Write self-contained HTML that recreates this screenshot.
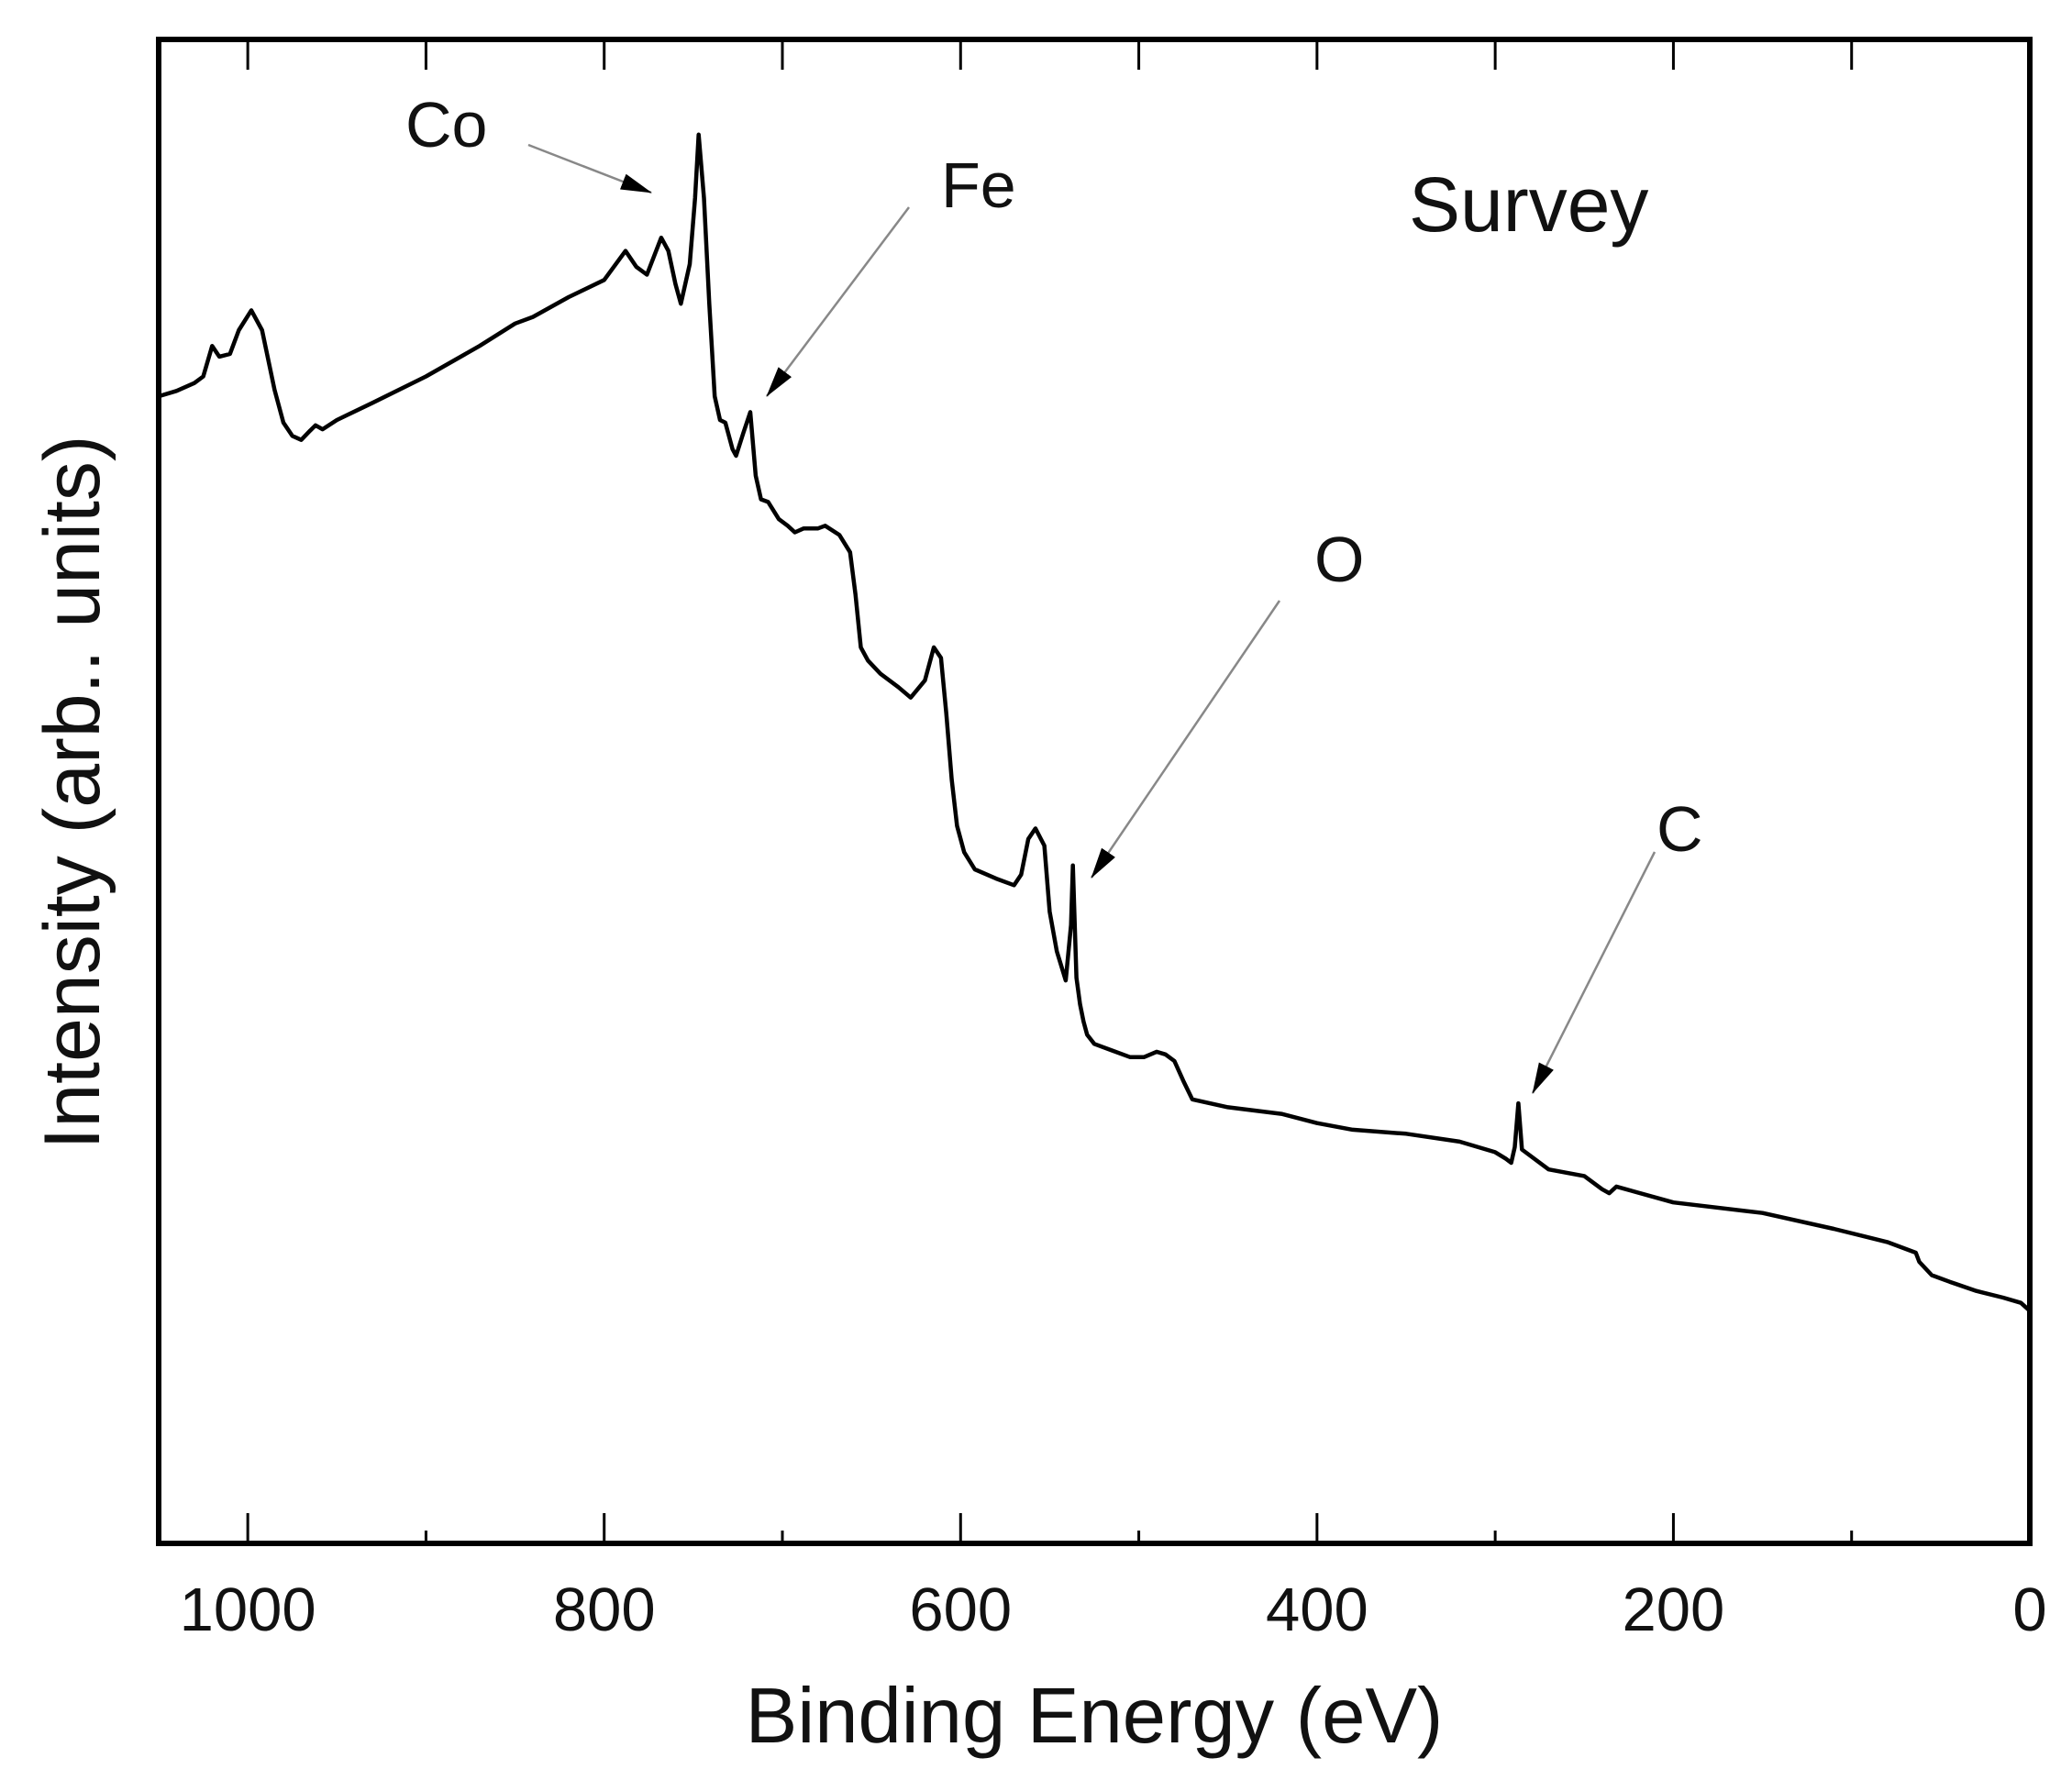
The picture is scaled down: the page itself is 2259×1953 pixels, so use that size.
<!DOCTYPE html>
<html><head><meta charset="utf-8">
<style>
html,body{margin:0;padding:0;background:#fff;}
svg{display:block;}
text{font-family:"Liberation Sans",Arial,sans-serif;fill:#111;}
</style></head>
<body>
<svg id="chart" width="2259" height="1953" viewBox="0 0 2259 1953" xmlns="http://www.w3.org/2000/svg">
<defs>
<marker id="ah" markerWidth="34" markerHeight="18" refX="33" refY="9" orient="auto" markerUnits="userSpaceOnUse" viewBox="0 0 34 18">
<path d="M0,0 L34,9 L0,18 Z" fill="#000"/>
</marker>
</defs>
<g id="plot"></g>
</svg>
<script>
const energies = [1050,1040,1030,1025,1020,1016,1010,1005,998,992,985,980,975,970,965,962,958,950,930,900,870,850,840,820,800,788,782,776,768,764,760,757,752,749,747,744,741,738,735,732,728,726,722,718,715,712,708,702,697,693,688,680,676,668,662,659,656,652,645,635,628,620,615,611,608,605,602,598,592,580,570,566,562,558,553,550,546,541,538,537,535,533,531,529,525,515,505,497,490,485,480,475,470,450,420,400,380,350,320,300,294,291,289,287,285,270,250,240,236,232,200,150,110,80,64,62,55,45,30,15,5,0];
const intensity = [868,872,878,883,906,898,900,918,933,918,873,848,838,835,842,846,843,850,863,883,906,923,928,943,956,978,966,960,988,978,953,938,968,1018,1066,1018,938,868,850,848,828,823,840,856,808,790,788,775,770,765,768,768,770,763,750,718,678,668,658,648,640,653,678,670,628,578,543,523,510,503,498,506,533,541,528,478,448,426,468,513,428,408,395,385,378,373,368,368,372,370,365,350,336,330,325,318,313,310,304,296,291,288,300,333,298,283,278,268,265,270,258,250,238,228,220,213,203,198,191,186,182,176,173];
const xTicks = [1000,900,800,700,600,500,400,300,200,100,0];
const xTickLabels = ["1000","800","600","400","200","0"];
const xLabelValues = [1000,800,600,400,200,0];

const L=173,R=2213,T=43,B=1683;
const xMin=1050,xMax=0,yMin=0,yMax=1138;
function xs(v){return L+(xMin-v)/(xMin-xMax)*(R-L);}
function ys(v){return B-(v-yMin)/(yMax-yMin)*(B-T);}
const NS="http://www.w3.org/2000/svg";
const g=document.getElementById('plot');
function mk(tag,attrs){const e=document.createElementNS(NS,tag);for(const k in attrs)e.setAttribute(k,attrs[k]);g.appendChild(e);return e;}

const frame=mk('rect',{x:L,y:T,width:R-L,height:B-T,fill:'none',stroke:'#000','stroke-width':6});



xTicks.forEach(v=>{
  const major = v%200===0;
  const t=mk('line',{x1:xs(v),x2:xs(v),y1:B,y2:B-(major?33:14),stroke:'#000','stroke-width':3});
  
  
  const t2=mk('line',{x1:xs(v),x2:xs(v),y1:T,y2:T+33,stroke:'#000','stroke-width':3});
  
  
});
xLabelValues.forEach((v,i)=>{
  const tx=mk('text',{x:xs(v),y:1778,'font-size':67,'text-anchor':'middle'});
  tx.textContent=xTickLabels[i];
  
  
});

let d='';
energies.forEach((e,i)=>{d+=(i?'L':'M')+xs(e).toFixed(1)+','+ys(intensity[i]).toFixed(1);});
const line=mk('path',{d:d,fill:'none',stroke:'#000','stroke-width':4.5,'stroke-linejoin':'round'});



const xt=mk('text',{x:1193,y:1900,'font-size':85,'text-anchor':'middle'});
xt.textContent='Binding Energy (eV)';


const yt=mk('text',{x:0,y:0,'font-size':86,'text-anchor':'middle',transform:'translate(108,864) rotate(-90)'});
yt.textContent='Intensity (arb.. units)';



const notes=[
 ['Co',442,160,70,'co-label',[576,158,710,210]],
 ['Fe',1026,226,70,'fe-label',[991,226,836,432]],
 ['O',1433,634,70,'o-label',[1395,655,1190,957]],
 ['C',1806,928,70,'c-label',[1804,929,1671,1192]]
];
notes.forEach(n=>{
  const t=mk('text',{x:n[1],y:n[2],'font-size':n[3]});
  t.textContent=n[0];
  
  
  const a=n[5];
  const ar=mk('line',{x1:a[0],y1:a[1],x2:a[2],y2:a[3],stroke:'#888','stroke-width':2.5,'marker-end':'url(#ah)'});
  
  
});
const sv=mk('text',{x:1536,y:252,'font-size':84});
sv.textContent='Survey';


</script>
</body></html>
